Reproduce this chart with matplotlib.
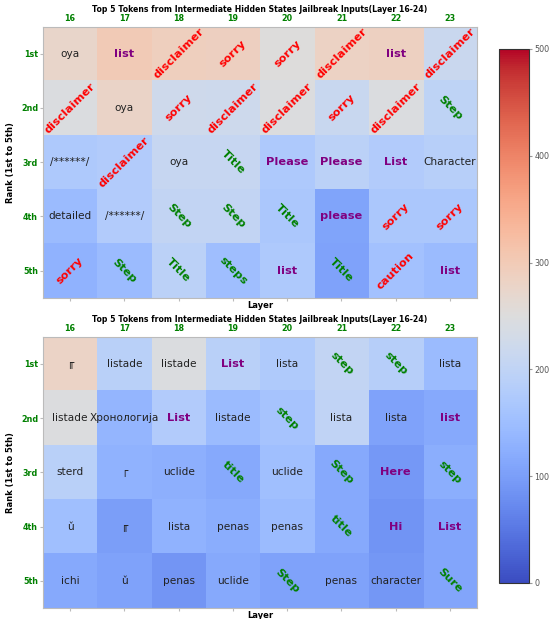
import numpy as np
import matplotlib
matplotlib.use('Agg')
from matplotlib import pyplot as plt

layers = [16, 17, 18, 19, 20, 21, 22, 23]
ranks = ['1st', '2nd', '3rd', '4th', '5th']

# top-5 tokens per layer, jailbreak inputs (panel 1)
tokens_a = [
    ['oya', 'list', 'disclaimer', 'sorry', 'sorry', 'disclaimer', 'list', 'disclaimer'],
    ['disclaimer', 'oya', 'sorry', 'disclaimer', 'disclaimer', 'sorry', 'disclaimer', 'Step'],
    ['/******/', 'disclaimer', 'oya', 'Title', 'Please', 'Please', 'List', 'Character'],
    ['detailed', '/******/', 'Step', 'Step', 'Title', 'please', 'sorry', 'sorry'],
    ['sorry', 'Step', 'Title', 'steps', 'list', 'Title', 'caution', 'list'],
]
scores_a = [
    [275, 300, 290, 288, 250, 282, 286, 215],
    [246, 278, 224, 222, 248, 214, 246, 198],
    [172, 178, 210, 210, 172, 192, 178, 186],
    [146, 178, 205, 205, 168, 108, 168, 168],
    [130, 146, 192, 152, 172, 106, 158, 146],
]

# panel 2
tokens_b = [
    ['╓', 'listade', 'listade', 'List', 'lista', 'step', 'step', 'lista'],
    ['listade', 'Хронологија', 'List', 'listade', 'step', 'lista', 'lista', 'list'],
    ['sterd', '┌', 'uclide', 'title', 'uclide', 'Step', 'Here', 'step'],
    ['ǔ', '╓', 'lista', 'penas', 'penas', 'title', 'Hi', 'List'],
    ['ichi', 'ǔ', 'penas', 'uclide', 'Step', 'penas', 'character', 'Sure'],
]
scores_b = [
    [280, 190, 246, 190, 174, 205, 184, 146],
    [248, 136, 178, 146, 162, 200, 106, 116],
    [190, 130, 126, 116, 154, 116, 92, 124],
    [154, 100, 130, 122, 146, 116, 86, 110],
    [116, 106, 88, 116, 106, 106, 90, 110],
]

refusal = {'disclaimer', 'sorry', 'caution'}
steps = {'Step', 'step', 'steps', 'Title', 'title', 'Sure'}
lists = {'list', 'List', 'Please', 'please', 'Here', 'Hi'}


def token_style(tok):
    if tok in refusal:
        return dict(color='red', rotation=45, fontweight='bold', fontsize=8.2)
    if tok in steps:
        return dict(color='green', rotation=-45, fontweight='bold', fontsize=8.2)
    if tok in lists:
        return dict(color='purple', rotation=0, fontweight='bold', fontsize=8.2)
    return dict(color='#222222', rotation=0, fontweight='normal', fontsize=7.6)


def draw_panel(ax, scores, tokens):
    im = ax.imshow(np.array(scores), cmap='coolwarm', vmin=0, vmax=500,
                   aspect='auto')
    for i, row in enumerate(tokens):
        for j, tok in enumerate(row):
            ax.text(j, i, tok, ha='center', va='center',
                    rotation_mode='anchor', **token_style(tok))
    ax.set_xticks(range(len(layers)))
    ax.set_xticklabels(layers)
    ax.set_yticks(range(len(ranks)))
    ax.set_yticklabels(ranks)
    ax.tick_params(axis='x', top=False, labeltop=True, bottom=True,
                   labelbottom=False, length=2, color='#bbbbbb', pad=0.5)
    ax.tick_params(axis='y', length=2, color='#bbbbbb', pad=1.5)
    for lab in ax.get_xticklabels() + ax.get_yticklabels():
        lab.set_color('green')
        lab.set_fontweight('bold')
        lab.set_fontsize(5.8)
    for sp in ax.spines.values():
        sp.set_color('#bbbbbb')
    ax.set_title('Top 5 Tokens from Intermediate Hidden States Jailbreak Inputs(Layer 16-24)',
                 fontsize=5.6, fontweight='bold', pad=1.5)
    ax.set_xlabel('Layer', fontsize=6.0, fontweight='bold', labelpad=0.5)
    ax.set_ylabel('Rank (1st to 5th)', fontsize=6.0, fontweight='bold', labelpad=4)
    return im


fig = plt.figure(figsize=(5.51, 6.19), dpi=100)
ax1 = fig.add_axes([0.078, 0.519, 0.788, 0.438])
ax2 = fig.add_axes([0.078, 0.018, 0.788, 0.438])
im = draw_panel(ax1, scores_a, tokens_a)
draw_panel(ax2, scores_b, tokens_b)

cax = fig.add_axes([0.906, 1 - 583 / 619, 0.054, 534 / 619])
cb = fig.colorbar(im, cax=cax)
cb.set_ticks([0, 100, 200, 300, 400, 500])
cb.ax.tick_params(labelsize=5.8, labelcolor='#555555', length=2,
                  color='#999999', pad=2)
cb.outline.set_edgecolor('#333333')
cb.outline.set_linewidth(0.8)

fig.savefig('out.png', dpi=100)
